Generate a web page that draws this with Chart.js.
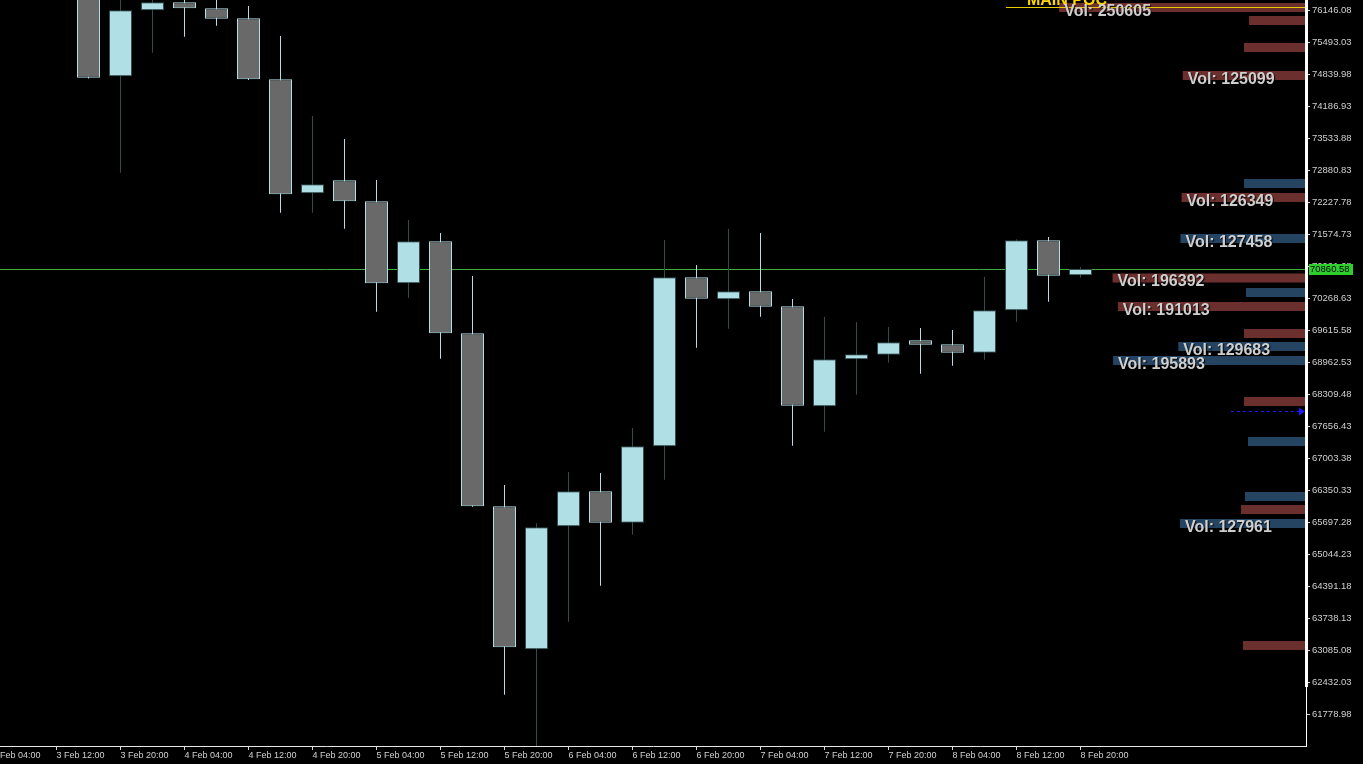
<!DOCTYPE html>
<html><head><meta charset="utf-8">
<script src="https://cdn.jsdelivr.net/npm/chart.js@4.4.0/dist/chart.umd.min.js"></script>
<style>html,body{margin:0;padding:0;background:#000;overflow:hidden}canvas{display:block}</style>
</head><body><canvas id="c" width="1363" height="764"></canvas>
<script>
// ---- data (4h candles, index 0 = 3 Feb 12:00) ----
const candleIndex = [1,2,3,4,5,6,7,8,9,10,11,12,13,14,15,16,17,18,19,20,21,22,23,24,25,26,27,28,29,30,31,32];
const opens  = [76480,74793.1,76140.0,76303.2,76180.8,75976.7,74731.9,72405.4,72670.7,72242.1,70568.7,71425.8,69548.3,66017.7,63099.5,65609.6,66323.9,65683.0,67242.3,70691.1,70242.1,70405.4,70099.3,68058.5,69017.7,69111.6,69405.4,69323.8,69152.4,70017.7,71446.2,70731.9];
const highs  = [76560,76420,76400,76380,76360,76227.7,75615.5,73982.9,73513.5,72676.8,71860.5,71595.2,70717.6,66452.4,65670.8,66717.7,66697.3,67615.7,71452.3,70942.1,71676.8,71595.2,70248.3,69880.9,69778.9,69676.8,69656.4,69615.6,70697.2,71466.6,71513.5,70901.3];
const lows   = [74750,72825.7,75274.7,75601.2,75825.7,74720,72009.4,72009.4,71682.9,69989.1,70274.8,69029.9,66010,62172.9,61120,63662.7,64397.3,65438.1,66560.6,69254.4,69642.2,69887.0,67254.4,67540.1,68295.3,68948.3,68723.8,68887.1,69009.5,69785.0,70193.2,70682.9];
const closes = [74764.5,76140.0,76303.2,76180.8,75968.6,74731.9,72385.0,72589.1,72242.1,70568.7,71425.8,69548.3,66017.7,63140.3,65589.2,66323.9,65683.0,67242.3,70691.1,70254.4,70405.4,70091.1,68070.7,69017.7,69119.7,69364.6,69315.6,69152.4,70017.7,71446.2,70723.8,70860.58];

const tickIndex  = [-2,0,2,4,6,8,10,12,14,16,18,20,22,24,26,28,30,32];
const tickLabels = ["3 Feb 04:00","3 Feb 12:00","3 Feb 20:00","4 Feb 04:00","4 Feb 12:00","4 Feb 20:00","5 Feb 04:00","5 Feb 12:00","5 Feb 20:00","6 Feb 04:00","6 Feb 12:00","6 Feb 20:00","7 Feb 04:00","7 Feb 12:00","7 Feb 20:00","8 Feb 04:00","8 Feb 12:00","8 Feb 20:00"];
const yTickValues = [61778.98,62432.03,63085.08,63738.13,64391.18,65044.23,65697.28,66350.33,67003.38,67656.43,68309.48,68962.53,69615.58,70268.63,70921.68,71574.73,72227.78,72880.83,73533.88,74186.93,74839.98,75493.03,76146.08];

// volume profile
const profilePrices  = [76197.1,75931.8,75380.8,74809.4,72605.3,72319.6,71483.0,70676.8,70381.0,70095.3,69544.3,69279.0,68993.3,68156.6,67340.3,66217.9,65952.6,65666.9,63177.2];
const profileVolumes = [250605,57870,62940,125099,62940,126349,127458,196392,60910,191013,62940,129683,195893,62940,58880,61930,65990,127961,63960];
const profileKind    = ['sell','sell','sell','sell','buy','sell','buy','sell','buy','sell','sell','buy','buy','sell','buy','buy','sell','buy','sell'];

const lastPrice = 70860.58;
const mainPoc = 76207.3;
const pocStartIndex = 29.67;
const arrowLevel = 67956.4;
const arrowStartIndex = 36.7;
const profileLow = 62330;

// ---- scale ranges ----
const xMin = -1.7656, xMax = 39.0469;
const yMin = 61125.93, yMax = 76350.16;
const volMax = 1325900;

const BULL_FILL = '#b0e0e6', BULL_LINE = '#2f4f4f';
const BEAR_FILL = '#696969', BEAR_LINE = '#b0e0e6';
const isBull = k => closes[k] >= opens[k];

const overlay = {
  id: 'overlay',
  beforeDatasetsDraw(chart) {
    const {ctx, chartArea: a, scales: {y}} = chart;
    ctx.save();
    const yl = Math.round(y.getPixelForValue(lastPrice)) + 0.5;
    ctx.strokeStyle = '#3fae3f';
    ctx.lineWidth = 1;
    ctx.beginPath(); ctx.moveTo(a.left, yl); ctx.lineTo(a.right, yl); ctx.stroke();
    ctx.restore();
  },
  afterDatasetsDraw(chart) {
    const {ctx, chartArea: a, scales: {x, y}} = chart;
    ctx.save();
    // main POC line + text
    const yp = Math.round(y.getPixelForValue(mainPoc)) + 0.5;
    const xp = x.getPixelForValue(pocStartIndex);
    ctx.strokeStyle = '#e8cc00';
    ctx.lineWidth = 1;
    ctx.beginPath(); ctx.moveTo(xp, yp); ctx.lineTo(a.right, yp); ctx.stroke();
    ctx.font = 'bold 16px "Liberation Sans"';
    ctx.fillStyle = '#ffd700';
    ctx.textBaseline = 'alphabetic';
    ctx.textAlign = 'left';
    ctx.fillText('MAIN POC', xp + 21, yp - 3);
    // arrow
    const ya = Math.round(y.getPixelForValue(arrowLevel)) + 0.5;
    const xa = x.getPixelForValue(arrowStartIndex);
    ctx.strokeStyle = '#1a1aff';
    ctx.setLineDash([3, 3]);
    ctx.beginPath(); ctx.moveTo(xa, ya); ctx.lineTo(a.right - 6, ya); ctx.stroke();
    ctx.setLineDash([]);
    ctx.fillStyle = '#1a1aff';
    ctx.beginPath(); ctx.moveTo(a.right - 7, ya - 4); ctx.lineTo(a.right - 1, ya); ctx.lineTo(a.right - 7, ya + 4); ctx.closePath(); ctx.fill();
    // volume labels
    const meta = chart.getDatasetMeta(2);
    ctx.font = 'bold 16px "Liberation Sans"';
    meta.data.forEach((el, j) => {
      if (profileVolumes[j] < 100000) return;
      const left = Math.min(el.x, el.base);
      ctx.shadowColor = 'rgba(0,0,0,0.9)';
      ctx.shadowOffsetX = 1; ctx.shadowOffsetY = 1; ctx.shadowBlur = 1;
      ctx.fillStyle = '#cfcfcf';
      ctx.fillText('Vol: ' + profileVolumes[j], left + 5, el.y + 8.5);
    });
    ctx.restore();
  },
  afterDraw(chart) {
    const {ctx, chartArea: a, scales: {y}} = chart;
    ctx.save();
    // thick axis segment
    const y0 = y.getPixelForValue(yMax), y1 = y.getPixelForValue(profileLow);
    ctx.fillStyle = '#ffffff';
    ctx.fillRect(a.right - 1, y0, 3, y1 - y0);
    // price tag
    const yl = Math.round(y.getPixelForValue(lastPrice));
    ctx.fillStyle = '#2fce2f';
    ctx.fillRect(a.right + 3, yl - 5, 44, 11);
    ctx.fillStyle = '#000';
    ctx.font = '9.5px "Liberation Sans"';
    ctx.textBaseline = 'middle';
    ctx.textAlign = 'left';
    ctx.fillText(lastPrice.toFixed(2), a.right + 4, yl + 0.5);
    ctx.restore();
  }
};

new Chart(document.getElementById('c'), {
  type: 'bar',
  data: {
    datasets: [
      {
        label: 'wick', order: 2, grouped: false,
        data: candleIndex.map((i, k) => ({x: i, y: [lows[k], highs[k]]})),
        barThickness: 1, borderWidth: 0, inflateAmount: 0,
        backgroundColor: c => (c.dataIndex !== undefined && isBull(c.dataIndex)) ? BULL_LINE : BEAR_LINE,
        xAxisID: 'x', yAxisID: 'y'
      },
      {
        label: 'body', order: 1, grouped: false,
        data: candleIndex.map((i, k) => ({x: i, y: [opens[k], closes[k]]})),
        barThickness: 23, borderWidth: 1, borderSkipped: false, inflateAmount: 0,
        backgroundColor: c => (c.dataIndex !== undefined && isBull(c.dataIndex)) ? BULL_FILL : BEAR_FILL,
        borderColor: c => (c.dataIndex !== undefined && isBull(c.dataIndex)) ? BULL_LINE : BEAR_LINE,
        xAxisID: 'x', yAxisID: 'y'
      },
      {
        label: 'profile', order: 0, grouped: false, indexAxis: 'y',
        data: profilePrices.map((p, j) => ({x: profileVolumes[j], y: p})),
        barThickness: 9, borderWidth: 0, inflateAmount: 0,
        backgroundColor: profileKind.map(k => k === 'sell' ? '#6b302e' : '#244461'),
        xAxisID: 'xv', yAxisID: 'y'
      }
    ]
  },
  options: {
    responsive: false, animation: false, devicePixelRatio: 1,
    layout: {padding: 0},
    plugins: {legend: {display: false}, tooltip: {enabled: false}},
    scales: {
      x: {
        type: 'linear', position: 'bottom', min: xMin, max: xMax, offset: false, bounds: 'data',
        afterBuildTicks: s => { s.ticks = tickIndex.map(v => ({value: v})); },
        afterFit: s => { s.height = 18; s.paddingLeft = 0; s.paddingRight = 0; },
        ticks: {autoSkip: false, maxRotation: 0, minRotation: 0, align: 'start', padding: 0,
          color: '#d0d0d0', font: {family: 'Liberation Sans', size: 9},
          callback: (v, i) => tickLabels[i]},
        grid: {offset: false, drawOnChartArea: false, drawTicks: true, tickLength: 4, color: '#d8d8d8'},
        border: {color: '#e6e6e6', width: 1}
      },
      xv: {
        type: 'linear', axis: 'x', position: 'top', display: false, reverse: true, min: 0, max: volMax,
        offset: false, bounds: 'data', grid: {offset: false}
      },
      y: {
        type: 'linear', position: 'right', min: yMin, max: yMax, offset: false, bounds: 'data',
        afterBuildTicks: s => { s.ticks = yTickValues.map(v => ({value: v})); },
        afterFit: s => { s.width = 57; s.paddingTop = 0; s.paddingBottom = 0; },
        ticks: {autoSkip: false, padding: 2, color: '#d0d0d0', font: {family: 'Liberation Sans', size: 9.5},
          callback: v => Number(v).toFixed(2)},
        grid: {offset: false, drawOnChartArea: false, drawTicks: true, tickLength: 4, color: '#d8d8d8'},
        border: {color: '#ffffff', width: 1}
      }
    }
  },
  plugins: [overlay]
});
</script>
</body></html>
